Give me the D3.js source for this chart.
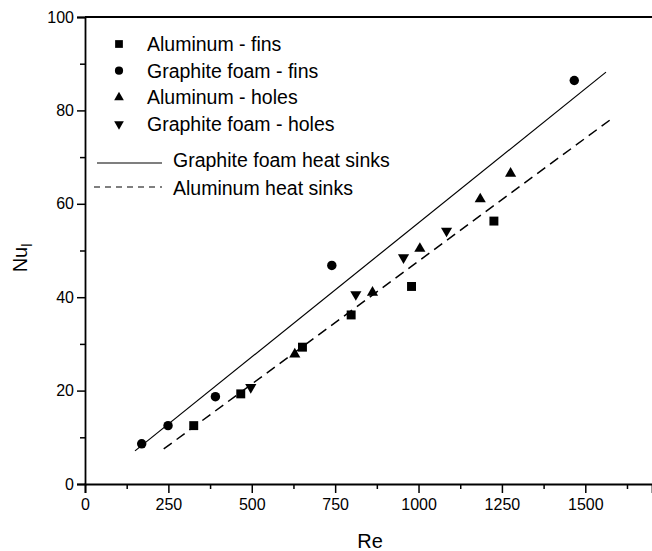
<!DOCTYPE html>
<html>
<head>
<meta charset="utf-8">
<script src="https://cdn.jsdelivr.net/npm/d3@7"></script>
<style>
  body { margin: 0; background: #fff; }
  svg { display: block; font-family: "Liberation Sans", Arial, sans-serif; }
</style>
</head>
<body>
<div id="chart"></div>
<script>
// Measured points (Re, Nu_l) for every series
const aluFinsRe = [326, 467, 652, 798, 979, 1226]
const aluFinsNu = [12.5, 19.3, 29.3, 36.2, 42.3, 56.3]
const gfFinsRe = [170, 249, 391, 740, 1467]
const gfFinsNu = [8.6, 12.5, 18.7, 46.8, 86.4]
const aluHolesRe = [629, 862, 1004, 1185, 1276]
const aluHolesNu = [27.8, 41.0, 50.4, 61.0, 66.5]
const gfHolesRe = [497, 812, 955, 1084]
const gfHolesNu = [20.7, 40.6, 48.5, 54.2]

// Fitted lines (end points)
const gfFitRe = [150, 1562]
const gfFitNu = [7.1, 88.2]
const aluFitRe = [236, 1577]
const aluFitNu = [7.5, 78.1]

const seriesNames = ["Aluminum - fins", "Graphite foam - fins", "Aluminum - holes", "Graphite foam - holes"]
const lineNames = ["Graphite foam heat sinks", "Aluminum heat sinks"]

// Axis ticks
const xMajor = [0, 250, 500, 750, 1000, 1250, 1500]
const xMinor = [125, 375, 625, 875, 1125, 1375, 1625]
const yMajor = [0, 20, 40, 60, 80, 100]
const yMinor = [10, 30, 50, 70, 90]

let width = 652
let height = 551

const svg = d3.select("#chart")
  .append("svg")
  .attr("width", width)
  .attr("height", height)

const xScale = d3.scaleLinear().domain([0, 1700]).range([85, 652])
const yScale = d3.scaleLinear().domain([0, 100]).range([484, 17])

// Series with their symbol
let series = [
  { re: aluFinsRe, nu: aluFinsNu, sym: d3.symbolSquare, size: 80, rot: 0 },
  { re: gfFinsRe, nu: gfFinsNu, sym: d3.symbolCircle, size: 70, rot: 0 },
  { re: aluHolesRe, nu: aluHolesNu, sym: d3.symbolTriangle, size: 54, rot: 0 },
  { re: gfHolesRe, nu: gfHolesNu, sym: d3.symbolTriangle, size: 54, rot: 180 }
]

// Fit lines
const line = d3.line().x(d => xScale(d[0])).y(d => yScale(d[1]))
svg.append("path")
  .attr("d", line(d3.zip(gfFitRe, gfFitNu)))
  .attr("fill", "none").attr("stroke", "#000").attr("stroke-width", 1.2)
svg.append("path")
  .attr("d", line(d3.zip(aluFitRe, aluFitNu)))
  .attr("fill", "none").attr("stroke", "#000").attr("stroke-width", 1.5)
  .attr("stroke-dasharray", "10,6")

// Points
series.forEach(s => {
  svg.append("g").selectAll("path")
    .data(d3.zip(s.re, s.nu))
    .enter()
    .append("path")
    .attr("d", d3.symbol().type(s.sym).size(s.size))
    .attr("transform", d => `translate(${xScale(d[0])},${yScale(d[1])}) rotate(${s.rot})`)
    .attr("fill", "#000")
})

// Axes
const xAxis = d3.axisBottom(xScale).tickValues(xMajor).tickSize(9).tickPadding(6).tickFormat(d3.format("d"))
const xAxisMinor = d3.axisBottom(xScale).tickValues(xMinor).tickSize(5).tickFormat("")
const yAxis = d3.axisLeft(yScale).tickValues(yMajor).tickSize(8).tickPadding(3).tickFormat(d3.format("d"))
const yAxisMinor = d3.axisLeft(yScale).tickValues(yMinor).tickSize(5).tickFormat("")

let gx = svg.append("g").attr("transform", "translate(0,484)").call(xAxis)
svg.append("g").attr("transform", "translate(0,484)").call(xAxisMinor).select(".domain").remove()
let gy = svg.append("g").attr("transform", "translate(85,0)").call(yAxis)
svg.append("g").attr("transform", "translate(85,0)").call(yAxisMinor).select(".domain").remove()

svg.selectAll(".tick line").attr("stroke-width", 1.5)
svg.selectAll(".domain").attr("stroke-width", 1.8)
gx.selectAll("text").attr("font-size", 16).attr("fill", "#000").attr("font-family", null)
gy.selectAll("text").attr("font-size", 16).attr("fill", "#000").attr("font-family", null)

// Top frame line
svg.append("line")
  .attr("x1", 85).attr("x2", 652)
  .attr("y1", 17).attr("y2", 17)
  .attr("stroke", "#000").attr("stroke-width", 1.8)

// Axis titles
svg.append("text")
  .attr("x", 370).attr("y", 548)
  .attr("text-anchor", "middle")
  .attr("font-size", 20)
  .text("Re")

let yTitle = svg.append("text")
  .attr("transform", "translate(27,258) rotate(-90)")
  .attr("text-anchor", "middle")
  .attr("font-size", 20)
yTitle.append("tspan").text("Nu")
yTitle.append("tspan").attr("font-size", 14).attr("dy", 5).text("l")

// Legend
let legend = svg.append("g")
series.forEach((s, i) => {
  let cy = 44 + i * 26.7
  legend.append("path")
    .attr("d", d3.symbol().type(s.sym).size(s.size * 0.75))
    .attr("transform", `translate(119,${cy}) rotate(${s.rot})`)
    .attr("fill", "#000")
  legend.append("text")
    .attr("x", 147).attr("y", cy + 7)
    .attr("font-size", 19.5)
    .text(seriesNames[i])
})

legend.append("line")
  .attr("x1", 97).attr("x2", 162).attr("y1", 163).attr("y2", 163)
  .attr("stroke", "#000").attr("stroke-width", 1.2)
legend.append("text")
  .attr("x", 173).attr("y", 166.5)
  .attr("font-size", 19.5)
  .text(lineNames[0])
legend.append("line")
  .attr("x1", 94).attr("x2", 162).attr("y1", 187).attr("y2", 187)
  .attr("stroke", "#000").attr("stroke-width", 1.2)
  .attr("stroke-dasharray", "6,5")
legend.append("text")
  .attr("x", 173).attr("y", 194.5)
  .attr("font-size", 19.5)
  .text(lineNames[1])
</script>
</body>
</html>
